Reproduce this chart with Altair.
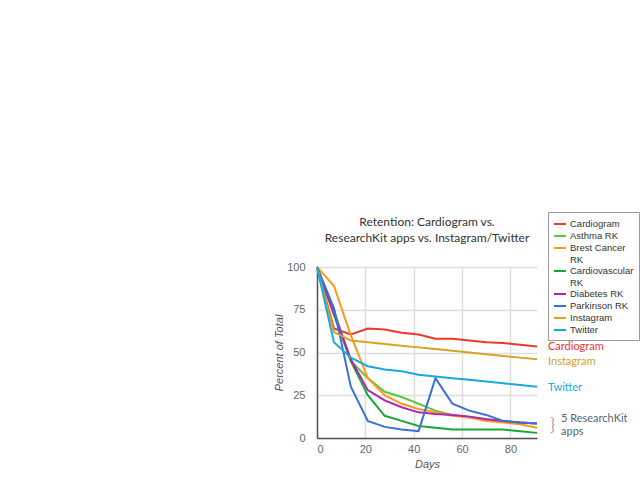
import altair as alt
import pandas as pd

days = [0, 7, 14, 21, 28, 35, 42, 49, 56, 63, 70, 77, 84, 91]

series_names = ["Cardiogram", "Asthma RK", "Brest Cancer RK", "Cardiovascular RK",
                "Diabetes RK", "Parkinson RK", "Instagram", "Twitter"]
series_colors = ["#f2362b", "#5cc83c", "#ff9a1c", "#17a83a",
                 "#b424b4", "#3a6fdc", "#d7a324", "#1aa9df"]

cardiogram = [100, 64, 60.5, 64, 63.5, 61.5, 60.5, 58, 58, 57, 56, 55.5, 54.5, 53.5]
asthma = [100, 75, 45, 35, 27, 24, 20, 16, 13.5, 12.5, 11, 10, 9, 8.5]
brest_cancer = [100, 89, 60, 35, 25, 20, 17, 15, 13, 12, 10, 9, 8, 6]
cardiovascular = [100, 72, 45, 25, 13, 10, 7, 6, 5, 5, 5, 5, 4, 3]
diabetes = [100, 73, 46, 28, 22, 18, 15, 14, 13.5, 12.5, 11, 10, 9, 8.5]
parkinson = [100, 76, 30, 10, 6.5, 5, 4, 35, 20, 16, 13.5, 10, 9, 8.5]
instagram = [100, 62, 57, 56, 55, 54, 53, 52, 51, 50, 49, 48, 47, 46]
twitter = [100, 56, 47, 42, 40, 39, 37, 36, 35, 34, 33, 32, 31, 30]

all_series = [cardiogram, asthma, brest_cancer, cardiovascular,
              diabetes, parkinson, instagram, twitter]

rows = []
for name, vals in zip(series_names, all_series):
    for d, v in zip(days, vals):
        rows.append({"series": name, "day": d, "pct": v})
df = pd.DataFrame(rows)

label_names = ["Cardiogram", "Instagram", "Twitter"]
label_values = [53.5, 44.5, 29.5]
label_colors = ["#f2362b", "#d7a324", "#1aa9df"]
labels_df = pd.DataFrame({"name": label_names, "day": [91] * 3, "pct": label_values,
                          "col": label_colors})
rk_lines = ["5 ResearchKit", "apps"]
rk_values = [11, 3.5]
rk_df = pd.DataFrame({"day": [91, 91], "pct": rk_values, "name": rk_lines})
brace_df = pd.DataFrame({"day": [91], "pct": [7.5], "brace": ["}"]})

x_scale = alt.Scale(domain=[0, 91], nice=False)
y_scale = alt.Scale(domain=[0, 100], nice=False)

lines = alt.Chart(df).mark_line(strokeWidth=2).encode(
    x=alt.X("day:Q", scale=x_scale,
            axis=alt.Axis(title="Days", values=[0, 20, 40, 60, 80])),
    y=alt.Y("pct:Q", scale=y_scale,
            axis=alt.Axis(title="Percent of Total", values=[0, 25, 50, 75, 100])),
    color=alt.Color("series:N",
                    scale=alt.Scale(domain=series_names, range=series_colors),
                    sort=series_names,
                    legend=alt.Legend(
                        title=None, orient="none", legendX=231, legendY=-55,
                        strokeColor="#9a9a9a", padding=5, fillColor="white",
                        symbolType="stroke", symbolStrokeWidth=2, symbolSize=144,
                        labelFontSize=9.5, labelFont="Liberation Sans", labelColor="#333",
                        labelExpr="length(datum.label) > 12 && indexof(datum.label, ' RK') > 0 ? [split(datum.label, ' RK')[0], 'RK'] : datum.label",
                        rowPadding=0, labelLimit=120, labelOffset=3)),
)

end_labels = alt.Chart(labels_df).mark_text(
    align="left", baseline="middle", dx=11, fontSize=11, font="Lato"
).encode(
    x=alt.X("day:Q", scale=x_scale),
    y=alt.Y("pct:Q", scale=y_scale),
    text="name:N",
    color=alt.Color("col:N", scale=None),
)

brace = alt.Chart(brace_df).mark_text(
    align="left", baseline="middle", dx=13, fontSize=17, font="Lato",
    color="#5a6478", fontWeight=300
).encode(
    x=alt.X("day:Q", scale=x_scale),
    y=alt.Y("pct:Q", scale=y_scale),
    text="brace:N",
)

rk_label = alt.Chart(rk_df).mark_text(
    align="left", baseline="middle", dx=24, fontSize=11, font="Lato",
    color="#5a6478"
).encode(
    x=alt.X("day:Q", scale=x_scale),
    y=alt.Y("pct:Q", scale=y_scale),
    text="name:N",
)

chart = alt.layer(lines, end_labels, brace, rk_label).properties(
    width=220, height=171,
    background="white",
    title=alt.TitleParams(
        text=["Retention: Cardiogram vs.", "ResearchKit apps vs. Instagram/Twitter"],
        anchor="middle", frame="group", fontSize=12, font="Lato", fontWeight="normal",
        color="#333", offset=-33, lineHeight=16),
    autosize=alt.AutoSizeParams(type="none"),
    padding={"left": 317, "top": 267, "right": 103, "bottom": 42},
).configure_view(stroke=None).configure_axis(
    gridColor="#dddddd", gridWidth=1.5, domainColor="#555", domainWidth=1.5,
    ticks=False, labelColor="#666", labelFontSize=11, labelFont="Liberation Sans",
    titleFont="Liberation Sans", titleFontStyle="italic", titleFontWeight="normal",
    titleColor="#555", titleFontSize=11
).configure_axisX(labelPadding=5, titlePadding=4).configure_axisY(
    labelPadding=12, titlePadding=2
)

chart.save("out.html", embed_options={"renderer": "svg", "actions": False})
